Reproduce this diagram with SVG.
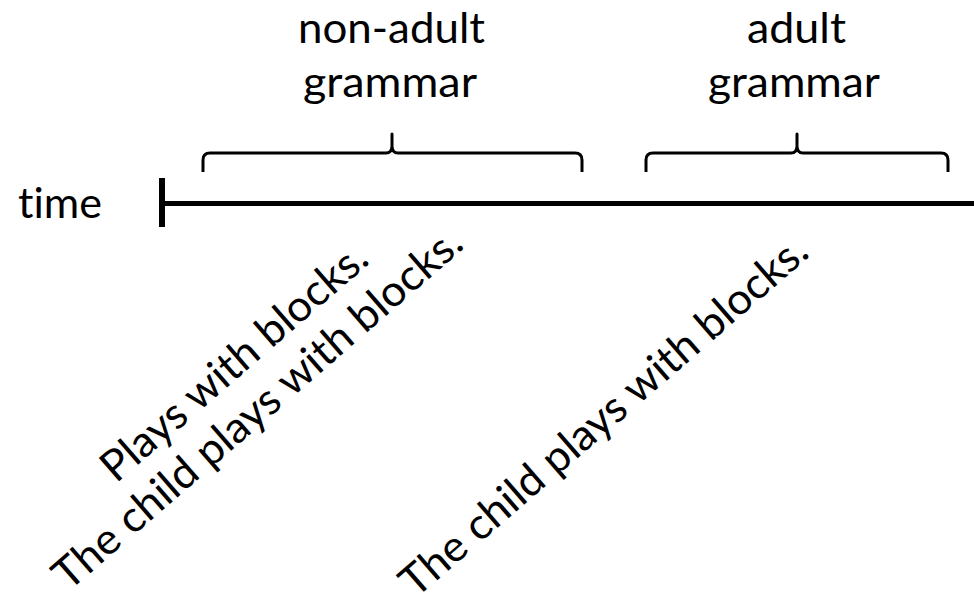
<svg xmlns="http://www.w3.org/2000/svg" width="974" height="596" viewBox="0 0 974 596">
<style>
text{font-family:Lato,"Liberation Sans",sans-serif;font-size:43px;fill:#000;font-variant-ligatures:none}
.brace{fill:none;stroke:#000;stroke-width:3;stroke-linejoin:round;stroke-linecap:butt}
.axis{stroke:#000;fill:none}
</style>
<rect width="974" height="596" fill="#fff"/>
<g id="timeline">
<line class="axis" x1="162" y1="203.5" x2="974" y2="203.5" stroke-width="5"/>
<line class="axis" x1="162" y1="178" x2="162" y2="227" stroke-width="6"/>
<text x="18" y="218" textLength="84" lengthAdjust="spacingAndGlyphs">time</text>
</g>
<g id="nonadult">
<path class="brace" d="M203,172 V160 Q203,153 210,153 H386 Q392,153 392,146 V134 V146 Q392,153 398,153 H575 Q582,153 582,160 V172"/>
<text x="391.5" y="43" text-anchor="middle" textLength="187" lengthAdjust="spacingAndGlyphs">non-adult</text>
<text x="390" y="97" text-anchor="middle" textLength="174" lengthAdjust="spacingAndGlyphs">grammar</text>
</g>
<g id="adult">
<path class="brace" d="M646,172 V160 Q646,153 653,153 H791 Q797,153 797,146 V134 V146 Q797,153 803,153 H941 Q948,153 948,160 V172"/>
<text x="796.5" y="43" text-anchor="middle" textLength="99" lengthAdjust="spacingAndGlyphs">adult</text>
<text x="794" y="97" text-anchor="middle" textLength="172" lengthAdjust="spacingAndGlyphs">grammar</text>
</g>
<g id="sentences-nonadult">
<text x="116" y="484" transform="rotate(-41 116 484)" textLength="338" lengthAdjust="spacingAndGlyphs">Plays with blocks.</text>
<text x="68.6" y="592" transform="rotate(-41 68.6 592)" textLength="526" lengthAdjust="spacingAndGlyphs">The child plays with blocks.</text>
</g>
<g id="sentences-adult">
<text x="415.6" y="599" transform="rotate(-41 415.6 599)" textLength="524" lengthAdjust="spacingAndGlyphs">The child plays with blocks.</text>
</g>
</svg>
